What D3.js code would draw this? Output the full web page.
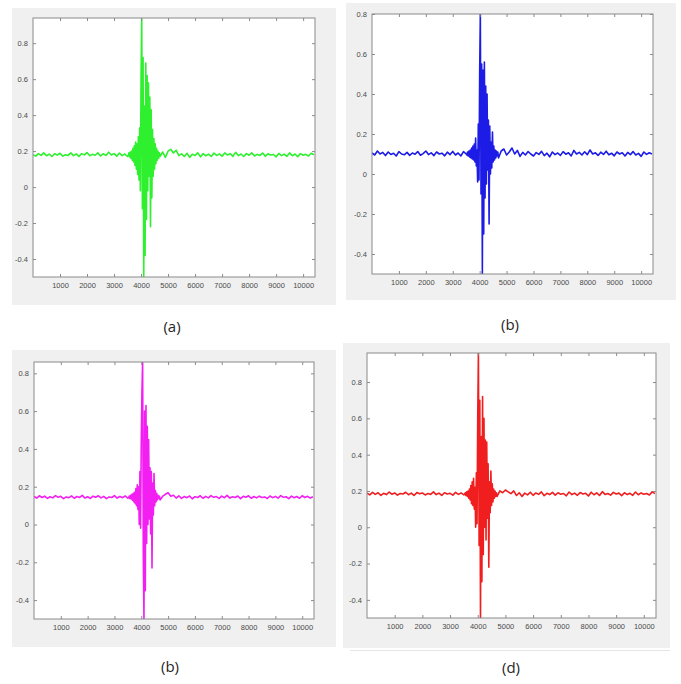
<!DOCTYPE html>
<html>
<head>
<meta charset="utf-8">
<script src="https://cdn.jsdelivr.net/npm/d3@7"></script>
<style>
  html, body { margin: 0; padding: 0; background: #ffffff; }
  svg { display: block; }
</style>
</head>
<body>
<svg id="chart" width="681" height="684"></svg>
<script>
// Sample-index tick values shared by all four traces
const xTicks = [1000, 2000, 3000, 4000, 5000, 6000, 7000, 8000, 9000, 10000];
const yTicks = [-0.4, -0.2, 0, 0.2, 0.4, 0.6, 0.8];
const sampleCount = 10440;

// Quiet baseline before the burst (one value every 100 samples, from 0)
const preA = [0.18,0.172,0.186,0.176,0.19,0.174,0.183,0.17,0.185,0.178,0.188,0.172,0.18,0.176,0.19,0.175,0.184,0.171,0.186,0.179,0.192,0.174,0.182,0.177,0.19,0.173,0.185,0.176,0.194,0.178,0.186,0.172,0.189,0.175,0.184,0.17];
const preB = [0.105,0.095,0.115,0.1,0.108,0.092,0.11,0.098,0.104,0.09,0.112,0.1,0.096,0.108,0.093,0.105,0.099,0.112,0.094,0.102,0.115,0.097,0.106,0.092,0.11,0.1,0.104,0.091,0.109,0.097,0.113,0.095,0.105,0.09,0.112,0.1];
const preC = [0.148,0.14,0.152,0.143,0.15,0.138,0.147,0.141,0.153,0.144,0.149,0.137,0.146,0.142,0.151,0.139,0.148,0.143,0.154,0.14,0.147,0.138,0.15,0.144,0.152,0.141,0.149,0.137,0.146,0.143,0.153,0.14,0.148,0.142,0.151,0.139];
const preD = [0.188,0.178,0.192,0.181,0.19,0.176,0.187,0.18,0.194,0.182,0.189,0.177,0.186,0.183,0.193,0.179,0.188,0.175,0.191,0.184,0.189,0.178,0.186,0.181,0.195,0.18,0.188,0.176,0.19,0.183,0.187,0.177,0.192,0.181,0.189,0.178];

// Burst section (one value every 25 samples, from 3525)
const burstA = [0.175,0.19,0.168,0.195,0.16,0.2,0.15,0.215,0.14,0.23,0.12,0.25,0.1,0.24,0.07,0.28,0.04,0.33,-0.02,0.6,0.94,-0.12,0.72,-0.5,0.45,-0.38,0.69,-0.18,0.62,-0.02,0.58,0.06,0.5,-0.22,0.43,-0.06,0.32,0.06,0.27,0.1,0.24,0.13,0.215,0.15,0.2,0.16,0.19];
const burstB = [0.095,0.11,0.09,0.115,0.085,0.12,0.08,0.13,0.075,0.14,0.07,0.15,0.06,0.18,0.04,0.12,-0.04,0.25,-0.03,0.5,0.8,-0.1,0.55,-0.5,0.52,-0.3,0.56,-0.12,0.44,-0.05,0.4,0.02,0.27,-0.25,0.24,0.0,0.16,0.03,0.21,0.06,0.14,0.07,0.12,0.08,0.115,0.09,0.11];
const burstC = [0.142,0.15,0.138,0.155,0.135,0.16,0.128,0.165,0.12,0.17,0.11,0.19,0.1,0.21,0.08,0.2,0.0,0.28,-0.02,0.45,0.7,0.86,-0.15,-0.5,0.6,-0.35,0.63,-0.1,0.52,0.0,0.45,0.03,0.3,-0.05,0.28,-0.23,0.22,0.05,0.27,0.1,0.18,0.12,0.165,0.13,0.155,0.138,0.15];
const burstD = [0.182,0.19,0.175,0.195,0.17,0.2,0.16,0.21,0.15,0.23,0.13,0.25,0.12,0.27,0.1,0.22,0.0,0.3,0.02,0.6,0.96,-0.1,0.7,-0.5,0.5,-0.3,0.72,-0.15,0.6,0.0,0.48,-0.07,0.47,0.05,0.35,-0.22,0.25,0.08,0.31,0.12,0.24,0.14,0.21,0.16,0.2,0.17,0.19];

// Quiet baseline after the burst (one value every 100 samples, from 4700)
const postA = [0.17,0.195,0.165,0.2,0.21,0.19,0.205,0.175,0.185,0.17,0.188,0.165,0.182,0.176,0.19,0.168,0.186,0.174,0.183,0.17,0.189,0.176,0.184,0.172,0.19,0.178,0.186,0.171,0.193,0.175,0.184,0.17,0.186,0.177,0.19,0.173,0.182,0.176,0.189,0.172,0.185,0.178,0.181,0.168,0.187,0.175,0.183,0.171,0.19,0.174,0.184,0.169,0.186,0.177,0.182,0.173,0.188,0.179];
const postB = [0.08,0.115,0.125,0.095,0.11,0.13,0.1,0.118,0.088,0.108,0.095,0.112,0.1,0.09,0.107,0.098,0.113,0.092,0.104,0.086,0.11,0.097,0.105,0.093,0.112,0.099,0.106,0.09,0.118,0.1,0.108,0.095,0.111,0.097,0.12,0.1,0.106,0.093,0.109,0.098,0.114,0.096,0.104,0.091,0.11,0.1,0.106,0.09,0.108,0.097,0.112,0.095,0.103,0.088,0.11,0.098,0.106,0.1];
const postC = [0.13,0.15,0.16,0.168,0.15,0.155,0.14,0.152,0.138,0.148,0.142,0.151,0.136,0.147,0.143,0.152,0.139,0.149,0.141,0.153,0.144,0.148,0.138,0.15,0.142,0.154,0.14,0.147,0.143,0.151,0.137,0.149,0.144,0.152,0.139,0.148,0.141,0.15,0.143,0.146,0.138,0.151,0.142,0.149,0.14,0.153,0.144,0.147,0.137,0.15,0.142,0.148,0.139,0.152,0.143,0.149,0.14,0.147];
const postD = [0.17,0.2,0.19,0.205,0.195,0.185,0.2,0.175,0.19,0.17,0.188,0.178,0.193,0.176,0.189,0.181,0.195,0.174,0.187,0.18,0.192,0.177,0.19,0.182,0.186,0.173,0.194,0.18,0.188,0.176,0.191,0.183,0.187,0.172,0.193,0.179,0.189,0.175,0.196,0.181,0.186,0.177,0.192,0.183,0.188,0.174,0.19,0.18,0.187,0.176,0.194,0.179,0.189,0.182,0.186,0.178,0.195,0.185];

// Upper y limit of each trace (plots are drawn with tight limits)
const yTopA = 0.94, yTopB = 0.8, yTopC = 0.86, yTopD = 0.96;
const yBottom = -0.5;

const panelLabels = ["(a)", "(b)", "(b)", "(d)"];

// Join the three sections of a trace into [sample, value] pairs
function trace(pre, burst, post) {
  const pts = [];
  pre.forEach((v, i) => pts.push([i * 100, v]));
  burst.forEach((v, i) => pts.push([3525 + i * 25, v]));
  post.forEach((v, i) => pts.push([4700 + i * 100, v]));
  return pts;
}

const panels = [
  { label: panelLabels[0], data: trace(preA, burstA, postA), top: yTopA, color: "#2ef02e",
    bg: [12, 8, 324, 297], box: [33, 18, 315, 277], labelPos: [172, 332] },
  { label: panelLabels[1], data: trace(preB, burstB, postB), top: yTopB, color: "#1c1ce6",
    bg: [346, 3, 330, 297], box: [372, 14, 653, 274], labelPos: [510, 330] },
  { label: panelLabels[2], data: trace(preC, burstC, postC), top: yTopC, color: "#f21ef2",
    bg: [12, 350, 324, 297], box: [34, 362, 314, 619], labelPos: [170, 672] },
  { label: panelLabels[3], data: trace(preD, burstD, postD), top: yTopD, color: "#f01e1e",
    bg: [343, 343, 327, 305], box: [367, 353, 656, 618], labelPos: [511, 673] }
];

const svg = d3.select("#chart");
const defs = svg.append("defs");

panels.forEach((p, k) => {
  const [x0, y0, x1, y1] = p.box;
  const g = svg.append("g");

  // figure background
  g.append("rect")
    .attr("x", p.bg[0]).attr("y", p.bg[1])
    .attr("width", p.bg[2]).attr("height", p.bg[3])
    .attr("fill", "#f0f0f0");

  // axes area
  g.append("rect")
    .attr("x", x0).attr("y", y0)
    .attr("width", x1 - x0).attr("height", y1 - y0)
    .attr("fill", "#ffffff");

  const x = d3.scaleLinear().domain([0, sampleCount]).range([x0, x1]);
  const y = d3.scaleLinear().domain([yBottom, p.top]).range([y1, y0]);

  defs.append("clipPath").attr("id", "clip" + k)
    .append("rect").attr("x", x0).attr("y", y0)
    .attr("width", x1 - x0).attr("height", y1 - y0);

  const line = d3.line().x(d => x(d[0])).y(d => y(d[1]));
  g.append("path")
    .datum(p.data)
    .attr("clip-path", "url(#clip" + k + ")")
    .attr("fill", "none")
    .attr("stroke", p.color)
    .attr("stroke-width", 1.6)
    .attr("stroke-linejoin", "round")
    .attr("d", line);

  const tickStyle = sel => {
    sel.select(".domain").remove();
    sel.selectAll(".tick line").attr("stroke", "#8a8a8a");
    sel.selectAll(".tick text")
      .attr("fill", "#4a4a4a")
      .attr("font-family", "Liberation Sans, Arial, sans-serif")
      .attr("font-size", "7.5px");
  };

  // bottom axis with inward ticks
  g.append("g").attr("transform", `translate(0,${y1})`)
    .call(d3.axisBottom(x).tickValues(xTicks).tickSizeInner(-3).tickSizeOuter(0).tickPadding(6)
      .tickFormat(d3.format("d")))
    .call(tickStyle);
  // top ticks
  g.append("g").attr("transform", `translate(0,${y0})`)
    .call(d3.axisTop(x).tickValues(xTicks).tickSizeInner(-3).tickSizeOuter(0).tickFormat(""))
    .call(tickStyle);
  // left axis
  g.append("g").attr("transform", `translate(${x0},0)`)
    .call(d3.axisLeft(y).tickValues(yTicks).tickSizeInner(-3).tickSizeOuter(0).tickPadding(5)
      .tickFormat(d => String(+d.toFixed(1))))
    .call(tickStyle);
  // right ticks
  g.append("g").attr("transform", `translate(${x1},0)`)
    .call(d3.axisRight(y).tickValues(yTicks).tickSizeInner(-3).tickSizeOuter(0).tickFormat(""))
    .call(tickStyle);

  // axes frame
  g.append("rect")
    .attr("x", x0).attr("y", y0)
    .attr("width", x1 - x0).attr("height", y1 - y0)
    .attr("fill", "none").attr("stroke", "#8a8a8a").attr("stroke-width", 1);

  // sub-figure caption
  svg.append("text")
    .attr("x", p.labelPos[0]).attr("y", p.labelPos[1])
    .attr("text-anchor", "middle")
    .attr("font-family", "Open Sans, Liberation Sans, sans-serif")
    .attr("font-size", "15px")
    .attr("fill", "#262626")
    .text(p.label);
});

// faint rule under the last figure
svg.append("line")
  .attr("x1", 350).attr("x2", 670).attr("y1", 650.5).attr("y2", 650.5)
  .attr("stroke", "#e4e4e4");
</script>
</body>
</html>
